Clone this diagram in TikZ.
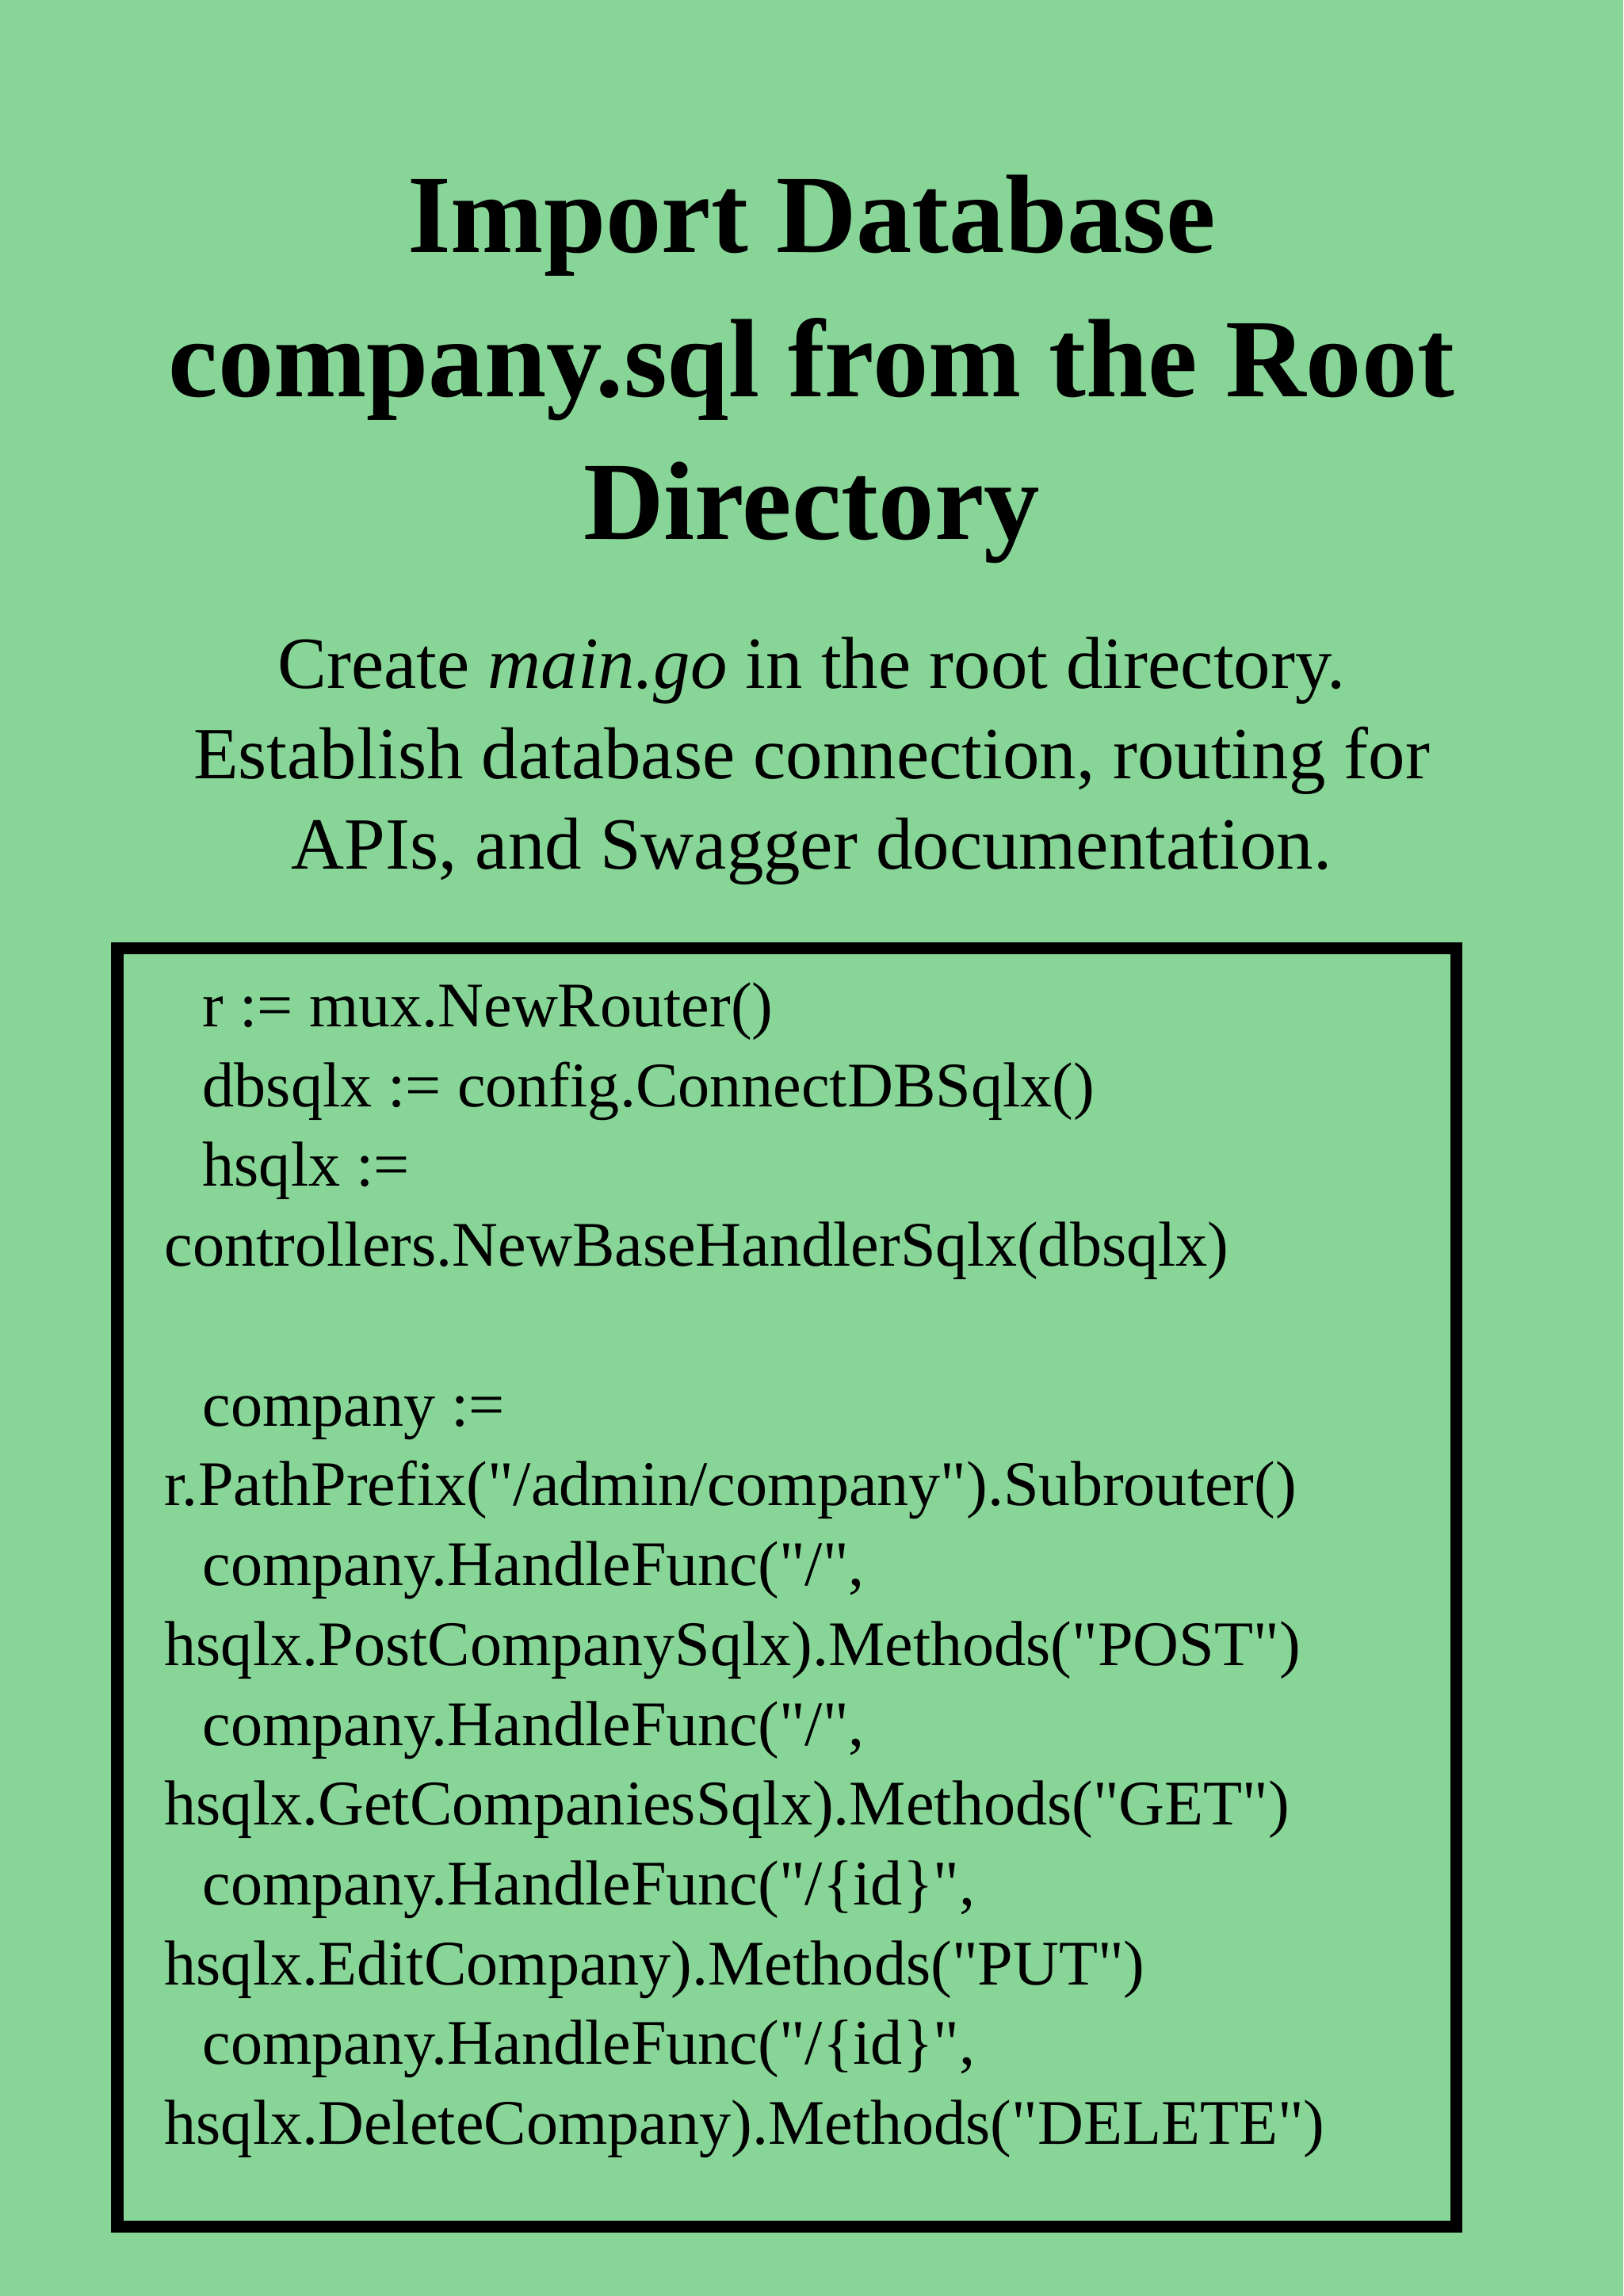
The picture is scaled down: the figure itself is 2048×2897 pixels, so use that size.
\documentclass[tikz,border=0pt]{standalone}
\usepackage{fontspec}
\setmainfont{Liberation Serif}
\newfontfamily\codefont{Liberation Serif}[Ligatures=TeXOff]
\definecolor{bg}{HTML}{88D697}
\begin{document}
\begin{tikzpicture}[x=0.01cm,y=-0.01cm,
  title/.style={font=\fontsize{40}{48}\selectfont\bfseries,anchor=base},
  sub/.style={font=\fontsize{26.4}{32}\selectfont,anchor=base},
  code/.style={font=\codefont\fontsize{22.8}{28}\selectfont,anchor=base west,inner sep=0pt}]
\fill[bg] (0,0) rectangle (2048,2897);
\useasboundingbox (0,0) rectangle (2048,2897);
\node[title] (t1) at (1024,318) {Import Database};
\node[title] (t2) at (1024,500) {company.sql from the Root};
\node[title] (t3) at (1024,680) {Directory};
\node[sub] (s1) at (1024,868) {Create \textit{main.go} in the root directory.};
\node[sub] (s2) at (1024,982) {Establish database connection, routing for};
\node[sub] (s3) at (1024,1096) {APIs, and Swagger documentation.};
\draw[line width=0.15cm] (148,1196) rectangle (1837,2809);
\foreach \y/\x/\t [count=\i] in {
 1295/255/{r := mux.NewRouter()},
 1396/255/{dbsqlx := config.ConnectDBSqlx()},
 1496/255/{hsqlx :=},
 1597/207/{controllers.NewBaseHandlerSqlx(dbsqlx)},
 1799/255/{company :=},
 1899/207/{r.PathPrefix("/admin/company").Subrouter()},
 2000/255/{company.HandleFunc("/",},
 2101/207/{hsqlx.PostCompanySqlx).Methods("POST")},
 2202/255/{company.HandleFunc("/",},
 2302/207/{hsqlx.GetCompaniesSqlx).Methods("GET")},
 2403/255/{company.HandleFunc("/\{id\}",},
 2504/207/{hsqlx.EditCompany).Methods("PUT")},
 2604/255/{company.HandleFunc("/\{id\}",},
 2705/207/{hsqlx.DeleteCompany).Methods("DELETE")}}
 \node[code] (c\i) at (\x,\y) {\t};
\end{tikzpicture}
\end{document}
